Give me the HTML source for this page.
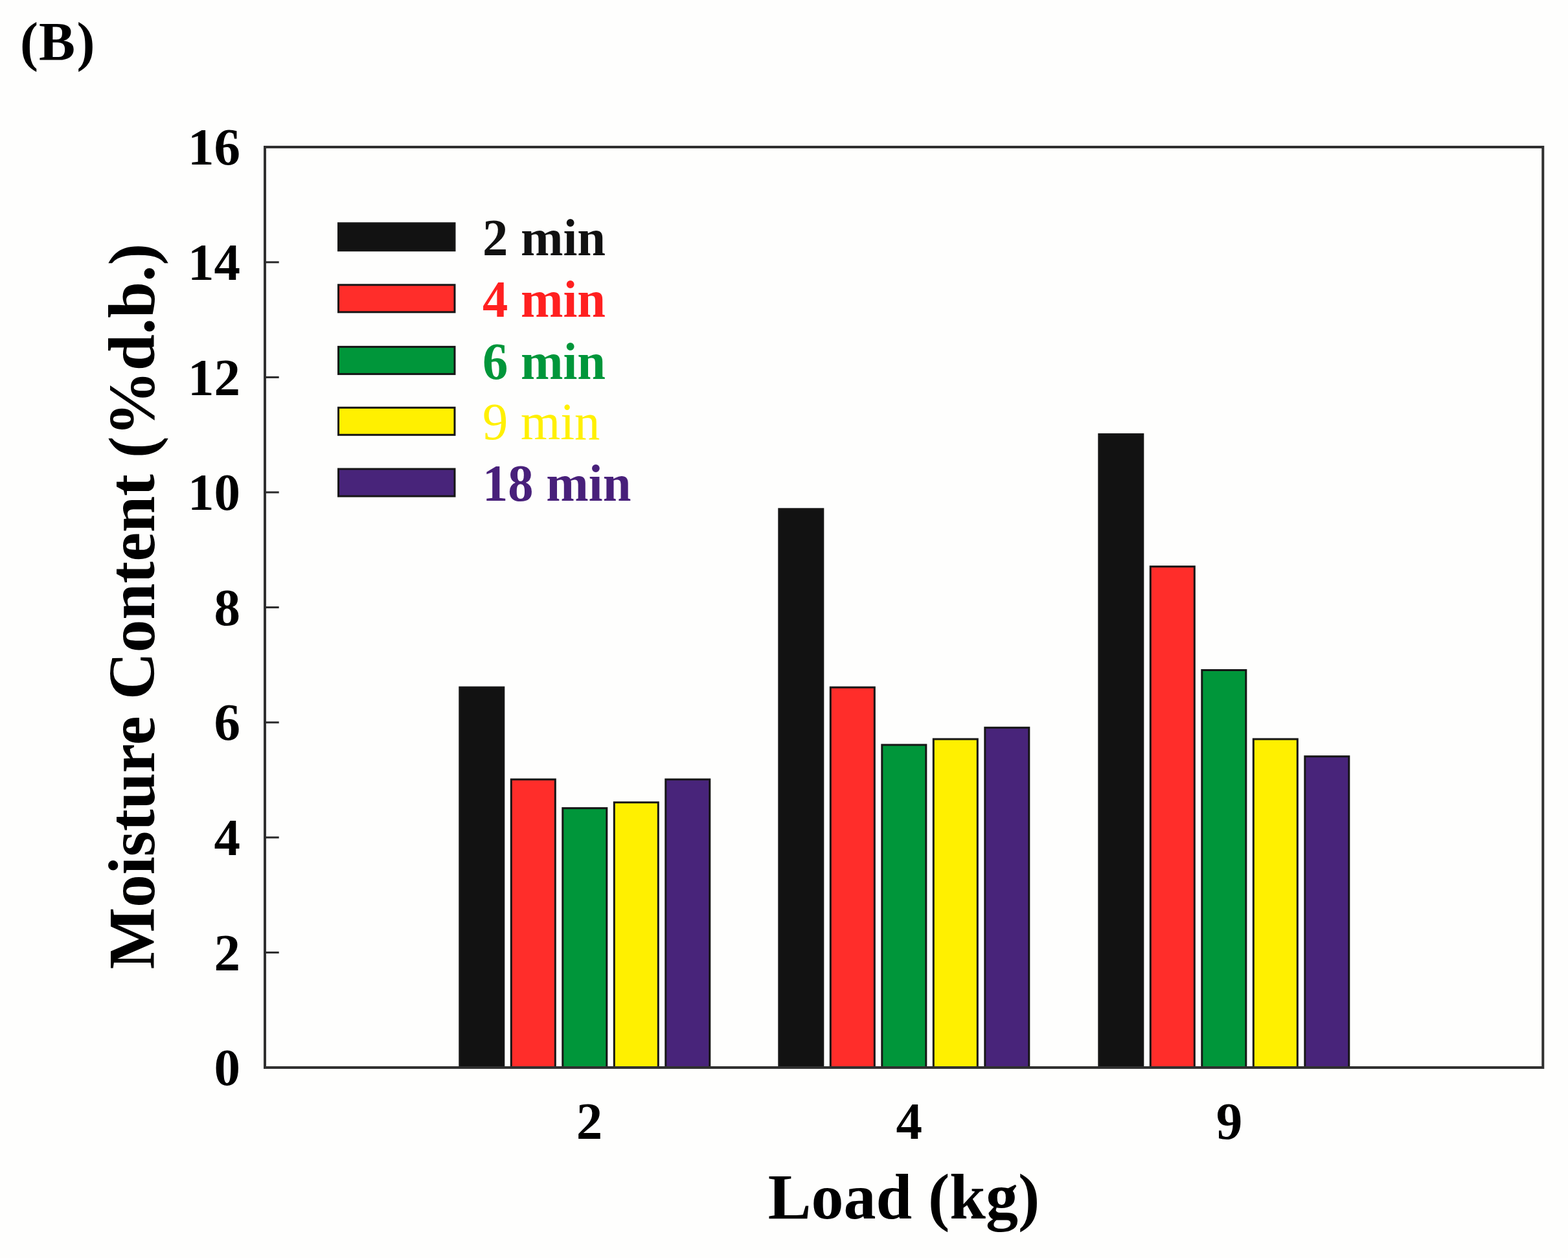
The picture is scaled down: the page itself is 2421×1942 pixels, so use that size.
<!DOCTYPE html><html><head><meta charset="utf-8"><style>html,body{margin:0;padding:0;background:#fefefd;}svg{display:block}</style></head><body>
<div id="w">
<svg width="2421" height="1942" viewBox="0 0 2421 1942">
<rect x="0" y="0" width="2421" height="1942" fill="#fefefd"/>
<rect x="709.8" y="1061.1" width="68.0" height="586.9" fill="#121212" stroke="#161616" stroke-width="3.0"/>
<rect x="789.3" y="1203.2" width="68.0" height="444.8" fill="#ff2d2a" stroke="#161616" stroke-width="3.0"/>
<rect x="868.8" y="1247.6" width="68.0" height="400.4" fill="#00963a" stroke="#161616" stroke-width="3.0"/>
<rect x="948.3" y="1238.7" width="68.0" height="409.3" fill="#fff000" stroke="#161616" stroke-width="3.0"/>
<rect x="1027.8" y="1203.2" width="68.0" height="444.8" fill="#48247a" stroke="#161616" stroke-width="3.0"/>
<rect x="1202.8" y="785.8" width="68.0" height="862.2" fill="#121212" stroke="#161616" stroke-width="3.0"/>
<rect x="1282.3" y="1061.1" width="68.0" height="586.9" fill="#ff2d2a" stroke="#161616" stroke-width="3.0"/>
<rect x="1361.8" y="1149.9" width="68.0" height="498.1" fill="#00963a" stroke="#161616" stroke-width="3.0"/>
<rect x="1441.3" y="1141.0" width="68.0" height="507.0" fill="#fff000" stroke="#161616" stroke-width="3.0"/>
<rect x="1520.8" y="1123.3" width="68.0" height="524.7" fill="#48247a" stroke="#161616" stroke-width="3.0"/>
<rect x="1696.8" y="670.4" width="68.0" height="977.6" fill="#121212" stroke="#161616" stroke-width="3.0"/>
<rect x="1776.3" y="874.6" width="68.0" height="773.4" fill="#ff2d2a" stroke="#161616" stroke-width="3.0"/>
<rect x="1855.8" y="1034.5" width="68.0" height="613.5" fill="#00963a" stroke="#161616" stroke-width="3.0"/>
<rect x="1935.3" y="1141.0" width="68.0" height="507.0" fill="#fff000" stroke="#161616" stroke-width="3.0"/>
<rect x="2014.8" y="1167.7" width="68.0" height="480.3" fill="#48247a" stroke="#161616" stroke-width="3.0"/>
<rect x="409" y="227" width="1973.3" height="1421" fill="none" stroke="#303030" stroke-width="4"/>
<line x1="409" y1="1470.4" x2="430.7" y2="1470.4" stroke="#2a2a2a" stroke-width="3"/>
<line x1="409" y1="1292.8" x2="430.7" y2="1292.8" stroke="#2a2a2a" stroke-width="3"/>
<line x1="409" y1="1115.2" x2="430.7" y2="1115.2" stroke="#2a2a2a" stroke-width="3"/>
<line x1="409" y1="937.6" x2="430.7" y2="937.6" stroke="#2a2a2a" stroke-width="3"/>
<line x1="409" y1="760.0" x2="430.7" y2="760.0" stroke="#2a2a2a" stroke-width="3"/>
<line x1="409" y1="582.4" x2="430.7" y2="582.4" stroke="#2a2a2a" stroke-width="3"/>
<line x1="409" y1="404.8" x2="430.7" y2="404.8" stroke="#2a2a2a" stroke-width="3"/>
<text x="371" y="1675.2" font-family="Liberation Serif, serif" font-weight="bold" font-size="81" text-anchor="end" fill="#000">0</text>
<text x="371" y="1497.6" font-family="Liberation Serif, serif" font-weight="bold" font-size="81" text-anchor="end" fill="#000">2</text>
<text x="371" y="1320.0" font-family="Liberation Serif, serif" font-weight="bold" font-size="81" text-anchor="end" fill="#000">4</text>
<text x="371" y="1142.4" font-family="Liberation Serif, serif" font-weight="bold" font-size="81" text-anchor="end" fill="#000">6</text>
<text x="371" y="964.8" font-family="Liberation Serif, serif" font-weight="bold" font-size="81" text-anchor="end" fill="#000">8</text>
<text x="371" y="787.2" font-family="Liberation Serif, serif" font-weight="bold" font-size="81" text-anchor="end" fill="#000">10</text>
<text x="371" y="609.6" font-family="Liberation Serif, serif" font-weight="bold" font-size="81" text-anchor="end" fill="#000">12</text>
<text x="371" y="432.0" font-family="Liberation Serif, serif" font-weight="bold" font-size="81" text-anchor="end" fill="#000">14</text>
<text x="371" y="254.4" font-family="Liberation Serif, serif" font-weight="bold" font-size="81" text-anchor="end" fill="#000">16</text>
<text x="910" y="1758" font-family="Liberation Serif, serif" font-weight="bold" font-size="81" text-anchor="middle" fill="#000">2</text>
<text x="1403.8" y="1758" font-family="Liberation Serif, serif" font-weight="bold" font-size="81" text-anchor="middle" fill="#000">4</text>
<text x="1897.9" y="1758" font-family="Liberation Serif, serif" font-weight="bold" font-size="81" text-anchor="middle" fill="#000">9</text>
<text x="1395.5" y="1880.6" font-family="Liberation Serif, serif" font-weight="bold" font-size="100" text-anchor="middle" fill="#000">Load (kg)</text>
<text transform="translate(238,936) rotate(-90)" x="0" y="0" font-family="Liberation Serif, serif" font-weight="bold" font-size="101" text-anchor="middle" fill="#000">Moisture Content (%d.b.)</text>
<text x="31" y="93" font-family="Liberation Serif, serif" font-weight="bold" font-size="84" fill="#000">(<tspan dx="1">B</tspan><tspan dx="2.5">)</tspan></text>
<rect x="522.5" y="344.7" width="179.5" height="42.0" fill="#121212" stroke="#161616" stroke-width="3.0"/>
<text transform="translate(745,394.2) scale(0.983,1)" x="0" y="0" font-family="Liberation Serif, serif" font-weight="bold" font-size="80" fill="#111111">2 min</text>
<rect x="522.5" y="439.8" width="179.5" height="42.0" fill="#ff2d2a" stroke="#161616" stroke-width="3.0"/>
<text transform="translate(745,488.8) scale(0.983,1)" x="0" y="0" font-family="Liberation Serif, serif" font-weight="bold" font-size="80" fill="#ff2020">4 min</text>
<rect x="522.5" y="535.4" width="179.5" height="42.0" fill="#00963a" stroke="#161616" stroke-width="3.0"/>
<text transform="translate(745,584.5) scale(0.983,1)" x="0" y="0" font-family="Liberation Serif, serif" font-weight="bold" font-size="80" fill="#00963a">6 min</text>
<rect x="522.5" y="629.3" width="179.5" height="42.0" fill="#fff000" stroke="#161616" stroke-width="3.0"/>
<text transform="translate(745,677.7) scale(0.983,1)" x="0" y="0" font-family="Liberation Serif, serif" font-weight="normal" font-size="80" fill="#fff000">9 min</text>
<rect x="522.5" y="724.0" width="179.5" height="42.0" fill="#48247a" stroke="#161616" stroke-width="3.0"/>
<text transform="translate(745,772.8) scale(0.983,1)" x="0" y="0" font-family="Liberation Serif, serif" font-weight="bold" font-size="80" fill="#48207a">18 min</text>
</svg></div></body></html>
